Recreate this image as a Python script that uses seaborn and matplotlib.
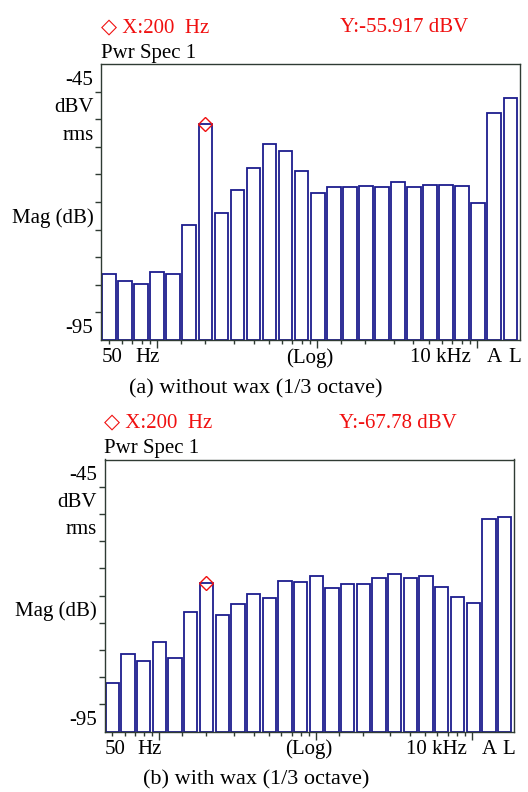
import numpy as np
import pandas as pd
import matplotlib
matplotlib.use("Agg")
import matplotlib.pyplot as plt
import matplotlib.transforms as mtransforms
import seaborn as sns

# 1/3 octave bands, plus the A-weighted and linear overall bars
bands = ["50", "63", "80", "100", "125", "160", "200", "250", "315", "400", "500", "630",
         "800", "1k", "1.25k", "1.6k", "2k", "2.5k", "3.15k", "4k", "5k", "6.3k", "8k", "10k",
         "A", "L"]

# dBV rms
no_wax = [-83.0, -84.4, -84.9, -82.6, -83.1, -74.1, -55.917, -72.0, -67.9, -63.9, -59.5, -60.8,
          -64.4, -68.4, -67.2, -67.3, -67.1, -67.3, -66.3, -67.3, -66.9, -66.9, -67.1, -70.1,
          -53.9, -51.2]
with_wax = [-86.0, -80.7, -82.1, -78.6, -81.5, -73.0, -67.78, -73.6, -71.5, -69.8, -70.5, -67.3,
            -67.5, -66.5, -68.7, -67.9, -67.8, -66.8, -66.1, -66.8, -66.5, -68.4, -70.3, -71.3,
            -55.9, -55.5]

marker_band = "200"
marker_text = ["-55.917", "-67.78"]
captions = ["(a) without wax (1/3 octave)", "(b) with wax (1/3 octave)"]

y_top, y_floor = -45, -95
side_labels = ["-45", "dBV", "rms", "Mag (dB)", "-95"]
side_pos = [-47.5, -52.5, -57.5, -72.5, -92.5]
x_words = ["50", "Hz", "(Log)", "10 kHz", "A", "L"]
x_word_pos = [0.2, 2.4, 12.5, 20.65, 24.0, 25.25]

W, H = 528, 792
frame = "#2f3b33"
navy = "#1c1c8e"
red = "#f01010"

sns.set_theme(style="white")
plt.rcParams["font.family"] = ["Liberation Serif", "DejaVu Sans"]

fig = plt.figure(figsize=(W / 100, H / 100), dpi=100)

# panel boxes in pixels: left, top, right, bottom
boxes = [(101, 64, 520, 340), (104.5, 459.5, 514, 731.5)]
series = [no_wax, with_wax]


def fx(px):
    return px / W


def fy(py):
    return 1 - py / H


def freq_to_idx(f):
    return 3 * np.log2(f / 50.0)


minor_f = [60, 70, 80, 90]
for dec in [100, 1000]:
    minor_f += [dec * m for m in [1.4, 2, 3, 4, 5, 6, 7, 8, 9]]
major_f = [100, 1000, 10000]
minor_f = [50] + minor_f

for k, (box, vals) in enumerate(zip(boxes, series)):
    l, t, r, b = box
    ax = fig.add_axes([fx(l), fy(b), fx(r - l), (b - t) / H])
    df = pd.DataFrame({"band": bands, "level": vals})
    df["height"] = df["level"] - y_floor
    sns.barplot(data=df, x="band", y="height", order=bands, color="white",
                edgecolor=navy, linewidth=1.3, width=0.85, bottom=y_floor, ax=ax)
    ax.set_xlim(-0.5, 25.6)
    ax.set_ylim(y_floor, y_top)
    ax.set_xlabel("")
    ax.set_ylabel("")

    for s in ax.spines.values():
        s.set_color(frame)
        s.set_linewidth(1.0)

    # y: ticks every 5 dB, words sitting between them
    ax.set_yticks(np.arange(-90, -45, 5))
    ax.set_yticklabels([])
    ax.set_yticks(side_pos, minor=True)
    ax.set_yticklabels(side_labels, minor=True, fontsize=15)
    ax.tick_params(axis="y", which="major", direction="out", length=4.5, width=1,
                   color=frame, left=True)
    ax.tick_params(axis="y", which="minor", length=0, pad=5.5, left=True,
                   labelcolor="black")

    # x: log frequency ticks
    ax.set_xticks([freq_to_idx(f) for f in major_f])
    ax.set_xticklabels([])
    ax.set_xticks([freq_to_idx(f) for f in minor_f], minor=True)
    ax.tick_params(axis="x", which="major", direction="out", length=6, width=1,
                   color=frame, bottom=True)
    ax.tick_params(axis="x", which="minor", direction="out", length=3, width=1,
                   color=frame, bottom=True)

    # cursor marker
    mi = bands.index(marker_band)
    ax.plot(mi, vals[mi], marker="D", ms=6.8, mfc="none", mec=red, mew=1.0,
            clip_on=False, zorder=5)

    trans = mtransforms.blended_transform_factory(ax.transData, fig.transFigure)
    base = b + 22.5
    for word, xp in zip(x_words, x_word_pos):
        ax.text(xp, fy(base), word, transform=trans, ha="center", va="baseline",
                fontsize=15, color="black")

    fig.text(fx(l), fy(t - 32), "\u25c7 X:200  Hz", color=red, fontsize=15,
             va="baseline", ha="left")
    fig.text(fx(340 if k == 0 else 339), fy(t - 32), "Y:" + marker_text[k] + " dBV",
             color=red, fontsize=15, va="baseline", ha="left")
    fig.text(fx(l), fy(t - 6), "Pwr Spec 1", color="black", fontsize=15,
             va="baseline", ha="left")
    fig.text(fx(256), fy(b + 53), captions[k], color="black", fontsize=16,
             va="baseline", ha="center")

fig.savefig("out.png", dpi=100)
